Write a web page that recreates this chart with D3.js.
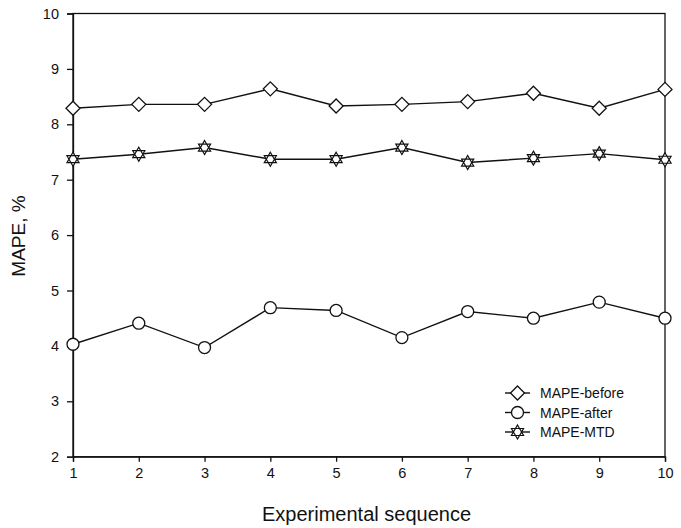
<!DOCTYPE html>
<html><head><meta charset="utf-8">
<script src="https://cdn.jsdelivr.net/npm/d3@7"></script>
<style>body{margin:0;background:#fff}svg{display:block}text{font-family:"Liberation Sans",Arial,sans-serif;fill:#111}</style>
</head><body>
<svg id="c" width="681" height="528"></svg>
<script>
const seq = [1,2,3,4,5,6,7,8,9,10];
const mapeBefore = [8.29,8.36,8.36,8.64,8.33,8.36,8.41,8.56,8.29,8.63];
const mapeAfter  = [4.03,4.41,3.97,4.69,4.64,4.15,4.62,4.50,4.79,4.50];
const mapeMTD    = [7.37,7.46,7.58,7.37,7.37,7.58,7.31,7.39,7.47,7.36];
const yTicks = [2,3,4,5,6,7,8,9,10];
const seriesNames = ["MAPE-before","MAPE-after","MAPE-MTD"];

const svg = d3.select("#c");
const L=73,R=665,T=13.5,B=456.7;
const x = d3.scaleLinear().domain([1,10]).range([L,R]);
const y = d3.scaleLinear().domain([2,10]).range([B,T]);

svg.append("rect").attr("x",L).attr("y",T).attr("width",R-L).attr("height",B-T)
  .attr("fill","none").attr("stroke","#111").attr("stroke-width",1.3);

const xa = svg.append("g").attr("transform",`translate(0,${B})`)
  .call(d3.axisBottom(x).tickValues(seq).tickFormat(d3.format("d")).tickSize(5).tickPadding(6));
const ya = svg.append("g").attr("transform",`translate(${L},0)`)
  .call(d3.axisLeft(y).tickValues(yTicks).tickFormat(d3.format("d")).tickSize(6).tickPadding(8));
[xa,ya].forEach(a=>{
  a.select(".domain").attr("stroke","#111").attr("stroke-width",1.3);
  a.selectAll(".tick line").attr("stroke","#111").attr("stroke-width",1.3);
  a.selectAll(".tick text").attr("font-size",14.5).attr("fill","#111").style("font-family","'Liberation Sans',Arial,sans-serif");
});

svg.append("text").attr("x",366.5).attr("y",521).attr("text-anchor","middle")
  .attr("font-size",20).text("Experimental sequence");
svg.append("text").attr("transform",`translate(25,236) rotate(-90)`).attr("text-anchor","middle")
  .attr("font-size",19).text("MAPE, %");

function diamond(g,cx,cy){ const r=7; g.append("path").attr("d",`M${cx},${cy-r}L${cx+r},${cy}L${cx},${cy+r}L${cx-r},${cy}Z`).attr("fill","#fff").attr("stroke","#111").attr("stroke-width",1.3); }
function circle(g,cx,cy){ g.append("circle").attr("cx",cx).attr("cy",cy).attr("r",6).attr("fill","#fff").attr("stroke","#111").attr("stroke-width",1.3); }
function star(g,cx,cy){ const r=7; const p=a=>[cx+r*Math.cos(a),cy+r*Math.sin(a)];
  const t1=[-90,30,150].map(d=>p(d*Math.PI/180)), t2=[90,210,330].map(d=>p(d*Math.PI/180));
  const s=t=>"M"+t.map(q=>q.join(",")).join("L")+"Z";
  g.append("path").attr("d",s(t1)+s(t2)).attr("fill","#fff").attr("stroke","#111").attr("stroke-width",1.2); }

const series=[[mapeBefore,diamond],[mapeAfter,circle],[mapeMTD,star]];
const line=d3.line().x((d,i)=>x(seq[i])).y(d=>y(d));
series.forEach(([vals,mk])=>{
  svg.append("path").datum(vals).attr("d",line).attr("fill","none").attr("stroke","#111").attr("stroke-width",1.4);
  const g=svg.append("g");
  vals.forEach((v,i)=>mk(g,x(seq[i]),y(v)));
});

const lg=svg.append("g");
series.forEach(([vals,mk],i)=>{
  const cy=393+i*19.5;
  lg.append("line").attr("x1",505).attr("x2",530).attr("y1",cy).attr("y2",cy).attr("stroke","#111").attr("stroke-width",1.4);
  mk(lg,517.5,cy);
  lg.append("text").attr("x",540).attr("y",cy+5).attr("font-size",14).text(seriesNames[i]);
});
</script>
</body></html>
